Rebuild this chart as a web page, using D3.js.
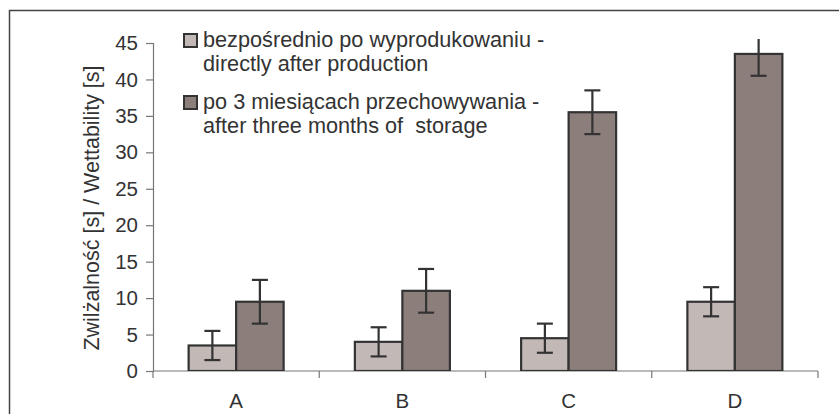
<!DOCTYPE html>
<html>
<head>
<meta charset="utf-8">
<script src="https://cdn.jsdelivr.net/npm/d3@7"></script>
<style>
  body { margin: 0; background: #fff; }
  svg text { font-family: "Liberation Sans", Arial, sans-serif; fill: #333; white-space: pre; }
</style>
</head>
<body>
<div id="chart"></div>
<script>
var categories = ["A", "B", "C", "D"];
var seriesNames = [
    ["bezpośrednio po wyprodukowaniu -", "directly after production"],
    ["po 3 miesiącach przechowywania -", "after three months of  storage"]
];
var afterProduction = [3.5, 4.0, 4.5, 9.5];
var afterStorage = [9.5, 11.0, 35.5, 43.5];
var errProduction = [2, 2, 2, 2];
var errStorage = [3, 3, 3, 3];
var yTicks = [0, 5, 10, 15, 20, 25, 30, 35, 40, 45];

var colors = ["#c2b8b5", "#8c7f7b"];

var W = 839, H = 414;
var margin = { top: 43, right: 21, bottom: 43, left: 153 },
    width = W - margin.left - margin.right,
    height = H - margin.top - margin.bottom;

var svg = d3.select("#chart")
    .append("svg")
    .attr("width", W)
    .attr("height", H);

// outer frame (right and bottom edges fall outside the picture)
svg.append("rect")
    .attr("x", 9.5).attr("y", 10.5)
    .attr("width", W + 10).attr("height", H + 10)
    .attr("fill", "none")
    .attr("stroke", "#444")
    .attr("stroke-width", 1.5);

var g = svg.append("g")
    .attr("transform", "translate(" + margin.left + "," + margin.top + ")");

var x = d3.scaleBand()
    .domain(categories)
    .range([0, width])
    .paddingInner(0)
    .paddingOuter(0);

var x1 = d3.scaleBand()
    .domain([0, 1])
    .range([0, x.bandwidth()])
    .paddingOuter(0.75)
    .paddingInner(0);

var y = d3.scaleLinear()
    .domain([0, 45])
    .range([height, 0]);

g.append("defs").append("clipPath").attr("id", "plotclip")
    .append("rect")
    .attr("x", 0).attr("y", -4)
    .attr("width", width).attr("height", height + 4);

// y axis
var yAxis = g.append("g")
    .call(d3.axisLeft(y).tickValues(yTicks).tickSize(7).tickPadding(8));
yAxis.select(".domain").attr("stroke", "#777").attr("stroke-width", 1.2);
yAxis.selectAll(".tick line").attr("stroke", "#777").attr("stroke-width", 1.2);
yAxis.selectAll(".tick text")
    .style("font-size", "20.5px")
    .style("font-family", "Liberation Sans, Arial, sans-serif")
    .attr("fill", "#333");

// x axis with ticks at category boundaries
var xAxis = g.append("g")
    .attr("transform", "translate(0," + height + ")");
xAxis.append("line")
    .attr("x1", 0).attr("x2", width)
    .attr("stroke", "#777").attr("stroke-width", 1.2);
xAxis.selectAll(".bound")
    .data(d3.range(categories.length + 1))
    .enter()
    .append("line")
    .attr("x1", function(i) { return i * x.bandwidth(); })
    .attr("x2", function(i) { return i * x.bandwidth(); })
    .attr("y1", 0).attr("y2", 7)
    .attr("stroke", "#777").attr("stroke-width", 1.2);
xAxis.selectAll(".lbl")
    .data(categories)
    .enter()
    .append("text")
    .attr("x", function(d) { return x(d) + x.bandwidth() / 2; })
    .attr("y", 37)
    .attr("text-anchor", "middle")
    .style("font-size", "20.5px")
    .text(function(d) { return d; });

// y title
svg.append("text")
    .attr("transform", "translate(99,208) rotate(-90)")
    .attr("text-anchor", "middle")
    .style("font-size", "21.5px")
    .text("Zwilżalność [s] / Wettability [s]");

var series = [
    { values: afterProduction, errs: errProduction },
    { values: afterStorage, errs: errStorage }
];

var plot = g.append("g").attr("clip-path", "url(#plotclip)");

series.forEach(function(s, si) {
    var data = categories.map(function(c, i) { return { c: c, v: s.values[i], e: s.errs[i] }; });

    plot.selectAll(".bar" + si)
        .data(data)
        .enter()
        .append("rect")
        .attr("x", function(d) { return x(d.c) + x1(si); })
        .attr("width", x1.bandwidth())
        .attr("y", function(d) { return y(d.v); })
        .attr("height", function(d) { return height - y(d.v); })
        .attr("fill", colors[si])
        .attr("stroke", "#333")
        .attr("stroke-width", 2.2);
});

series.forEach(function(s, si) {
    var data = categories.map(function(c, i) { return { c: c, v: s.values[i], e: s.errs[i] }; });
    var eb = plot.selectAll(".err" + si)
        .data(data)
        .enter()
        .append("g")
        .attr("transform", function(d) { return "translate(" + (x(d.c) + x1(si) + x1.bandwidth() / 2) + ",0)"; });
    eb.append("line")
        .attr("y1", function(d) { return y(d.v + d.e); })
        .attr("y2", function(d) { return y(d.v - d.e); })
        .attr("stroke", "#333").attr("stroke-width", 2.2);
    eb.append("line")
        .attr("x1", -8).attr("x2", 8)
        .attr("y1", function(d) { return y(d.v + d.e); })
        .attr("y2", function(d) { return y(d.v + d.e); })
        .attr("stroke", "#333").attr("stroke-width", 2.2);
    eb.append("line")
        .attr("x1", -8).attr("x2", 8)
        .attr("y1", function(d) { return y(d.v - d.e); })
        .attr("y2", function(d) { return y(d.v - d.e); })
        .attr("stroke", "#333").attr("stroke-width", 2.2);
});

// legend
var legend = svg.append("g").attr("transform", "translate(184,34)");
seriesNames.forEach(function(lines, i) {
    var item = legend.append("g").attr("transform", "translate(0," + (i * 62) + ")");
    item.append("rect")
        .attr("x", 0).attr("y", 0)
        .attr("width", 13).attr("height", 13)
        .attr("fill", colors[i])
        .attr("stroke", "#333")
        .attr("stroke-width", 2);
    lines.forEach(function(t, j) {
        item.append("text")
            .attr("x", 19)
            .attr("y", 13 + j * 24)
            .style("font-size", "21.7px")
            .text(t);
    });
});
</script>
</body>
</html>
